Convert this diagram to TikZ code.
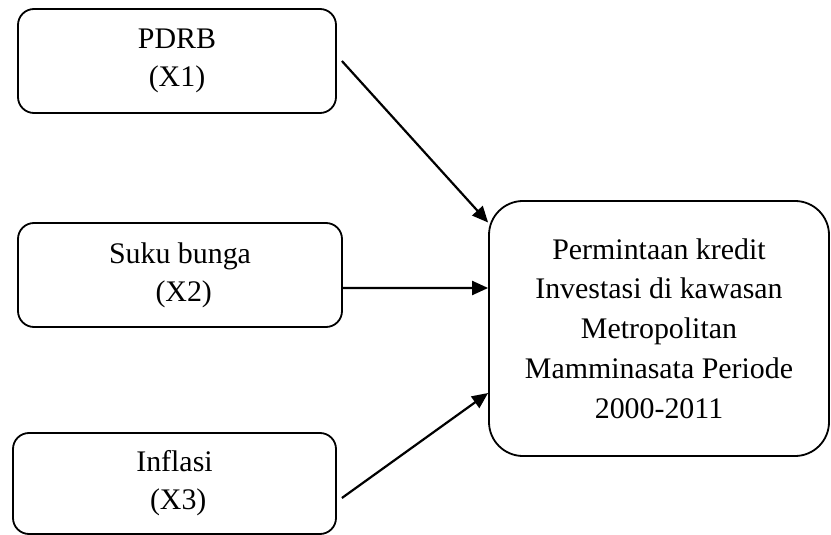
\documentclass[tikz,border=0pt]{standalone}
\usepackage{fontspec}
\setmainfont{Liberation Serif}
\usetikzlibrary{arrows.meta}
\tikzset{
  smallbox/.style={draw=black, line width=1.8bp, rounded corners=16bp, align=center, inner sep=0pt, font=\fontsize{30}{38}\selectfont},
  bigbox/.style={draw=black, line width=1.8bp, rounded corners=34bp, align=center, inner sep=0pt, font=\fontsize{30}{40}\selectfont},
  conn/.style={line width=2.2bp, -{Triangle[length=16bp,width=14bp]}}
}
\begin{document}
\begin{tikzpicture}[x=1bp,y=-1bp]
\useasboundingbox (0,0) rectangle (831,535);
\node[smallbox, minimum width=318bp, minimum height=104bp] (b1) at (177,61) {PDRB\\(X1)};
\node[smallbox, minimum width=324bp, minimum height=104bp] (b2) at (180,275) {Suku bunga\\\ (X2)};
\node[smallbox, minimum width=323bp, minimum height=101bp] (b3) at (174.5,483.5) {Inflasi\\\ (X3)};
\node[bigbox, minimum width=340bp, minimum height=255bp] (big) at (659,328.5) {Permintaan kredit\\Investasi di kawasan\\Metropolitan\\Mamminasata Periode\\2000-2011};
\draw[conn] ([xshift=5bp]b1.east) -- ([yshift=106bp]big.west);
\draw[conn] ([yshift=-13bp]b2.east) -- ([yshift=40.5bp]big.west);
\draw[conn] ([xshift=5bp,yshift=-14.5bp]b3.east) -- ([yshift=-64.5bp]big.west);
\end{tikzpicture}
\end{document}
